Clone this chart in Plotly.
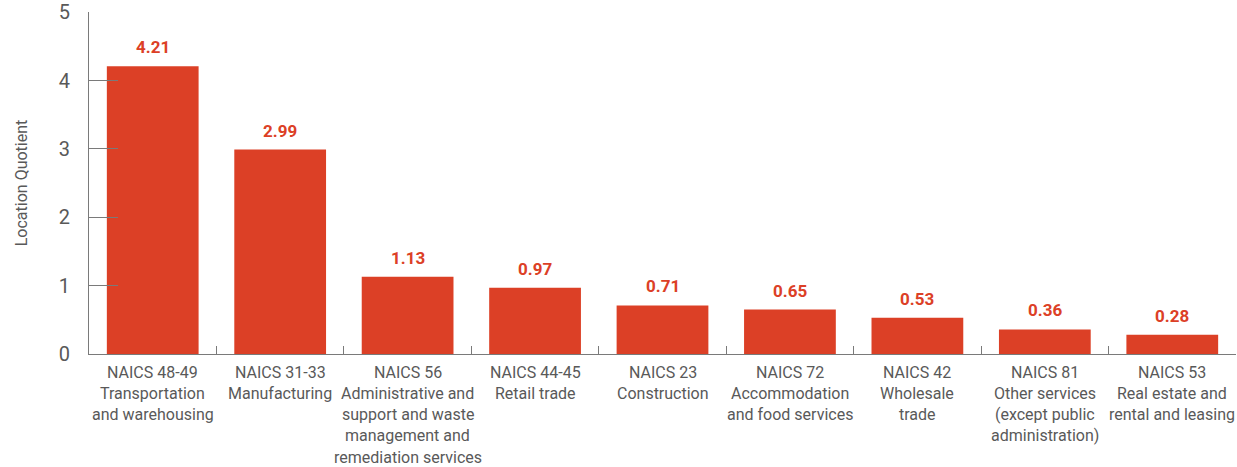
import plotly.graph_objects as go

codes = ["NAICS 48-49", "NAICS 31-33", "NAICS 56", "NAICS 44-45", "NAICS 23",
         "NAICS 72", "NAICS 42", "NAICS 81", "NAICS 53"]
names = [
    ["Transportation", "and warehousing"],
    ["Manufacturing"],
    ["Administrative and", "support and waste", "management and", "remediation services"],
    ["Retail trade"],
    ["Construction"],
    ["Accommodation", "and food services"],
    ["Wholesale", "trade"],
    ["Other services", "(except public", "administration)"],
    ["Real estate and", "rental and leasing"],
]
values = [4.21, 2.99, 1.13, 0.97, 0.71, 0.65, 0.53, 0.36, 0.28]
value_labels = ["4.21", "2.99", "1.13", "0.97", "0.71", "0.65", "0.53", "0.36", "0.28"]
y_ticks = [0, 1, 2, 3, 4, 5]

FONT = "Roboto, Liberation Sans, sans-serif"
RED = "#DC4026"
GRAY = "#595959"
AXIS = "#7a7a7a"

fig = go.Figure()
fig.add_trace(go.Bar(x=codes, y=values, marker=dict(color=RED, line=dict(width=0)),
                     hoverinfo="skip"))

annotations = []
for c, v, lab in zip(codes, values, value_labels):
    annotations.append(dict(x=c, y=v, xref="x", yref="y", text="<b>" + lab + "</b>",
                            showarrow=False, yanchor="bottom", yshift=7,
                            font=dict(family=FONT, size=17, color=RED)))
for c, nm in zip(codes, names):
    lines = [c] + nm
    for i, ln in enumerate(lines):
        annotations.append(dict(x=c, y=0, xref="x", yref="paper", text=ln,
                                showarrow=False, yanchor="middle",
                                yshift=-18 - 21.3 * i,
                                font=dict(family=FONT, size=16, color=GRAY)))

fig.update_layout(
    width=1237, height=467,
    margin=dict(l=89, r=1, t=12, b=113),
    paper_bgcolor="white", plot_bgcolor="white",
    bargap=0.28,
    showlegend=False,
    annotations=annotations,
    font=dict(family=FONT, color=GRAY),
    xaxis=dict(range=[-0.5, 8.5], showticklabels=False, tickson="boundaries",
               ticks="inside", ticklen=8,
               tickcolor=AXIS, showline=True, linecolor=AXIS, linewidth=1,
               showgrid=False, zeroline=False, fixedrange=True),
    yaxis=dict(range=[0, 5.003], tickvals=y_ticks, ticks="inside", ticklen=29,
               tickcolor=AXIS, showline=True, linecolor=AXIS, linewidth=1,
               showgrid=False, zeroline=False,
               tickfont=dict(family=FONT, size=20, color=GRAY),
               ticklabelstandoff=14,
               title=dict(text="Location Quotient", standoff=27,
                          font=dict(family=FONT, size=16, color=GRAY))),
)

fig.write_html("out.html")
